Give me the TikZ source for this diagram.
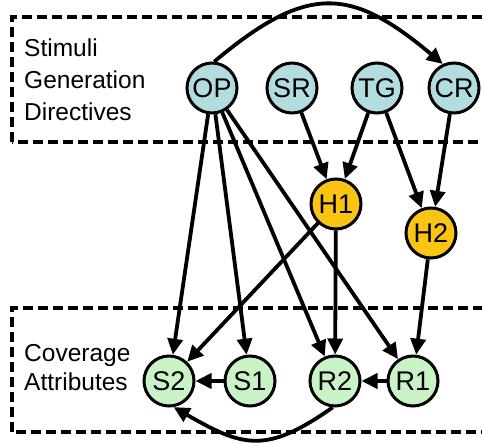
\documentclass[tikz,border=0pt]{standalone}
\usepackage{fontspec}
\setmainfont{Liberation Sans}
\usetikzlibrary{arrows.meta}
\definecolor{dirblue}{HTML}{B2DCDF}
\definecolor{hidgold}{HTML}{F9C414}
\definecolor{covgreen}{HTML}{C9F2C6}
\tikzset{
  x=1pt, y=1pt,
  vnode/.style={circle, draw=black, line width=3pt, minimum size=50pt, inner sep=0pt,
    font=\fontsize{27}{27}\selectfont},
  dirnode/.style={vnode, fill=dirblue},
  hidnode/.style={vnode, fill=hidgold},
  covnode/.style={vnode, fill=covgreen},
  edge/.style={line width=3.8pt, -{Triangle[length=16pt,width=15pt]}},
  groupbox/.style={line width=3.5pt, dash pattern=on 10pt off 5pt},
  grouplabel/.style={anchor=base west, inner sep=0pt, font=\fontsize{24.5}{30}\selectfont}
}
\begin{document}
\begin{tikzpicture}
\useasboundingbox (0,0) rectangle (482,442);
\clip (0,0) rectangle (482,442);
\fill[white] (0,0) rectangle (482,442);

% group frames
\draw[groupbox] (12,300) rectangle (495,425);
\draw[groupbox] (12,10) rectangle (495,134);
\node[grouplabel] (stimuli) at (24,385) {Stimuli};
\node[grouplabel] (generation) at (24,353) {Generation};
\node[grouplabel] (directives) at (24,321) {Directives};
\node[grouplabel] (coverage) at (24,81) {Coverage};
\node[grouplabel] (attributes) at (24,52) {Attributes};

% directive nodes
\node[dirnode] (OP) at (212,354) {OP};
\node[dirnode] (SR) at (292,354) {SR};
\node[dirnode] (TG) at (377,354) {TG};
\node[dirnode] (CR) at (454,354) {CR};

% hidden nodes
\node[hidnode] (H1) at (336,238) {H1};
\node[hidnode] (H2) at (431,209) {H2};

% coverage nodes
\node[covnode] (S2) at (169,61) {S2};
\node[covnode] (S1) at (250,61) {S1};
\node[covnode] (R2) at (335,61) {R2};
\node[covnode] (R1) at (413,61) {R1};

% dependencies
\draw[edge] (OP.85) to[out=40, in=140, looseness=1.35] (CR.115);
\draw[edge] (OP) -- (S2);
\draw[edge] (OP) -- (S1);
\draw[edge] (OP) -- (R2);
\draw[edge] (OP) -- (R1);
\draw[edge] (SR) -- (H1);
\draw[edge] (TG) -- (H1);
\draw[edge] (TG) -- (H2);
\draw[edge] (CR) -- (H2);
\draw[edge] (H1) -- (S2);
\draw[edge] (H1) -- (R2);
\draw[edge] (H2) -- (R1);
\draw[edge] (S1) -- (S2);
\draw[edge] (R1) -- (R2);
\draw[edge] (R2.-95) to[out=-145, in=-30, looseness=1.3] (S2.-80);
\end{tikzpicture}
\end{document}
